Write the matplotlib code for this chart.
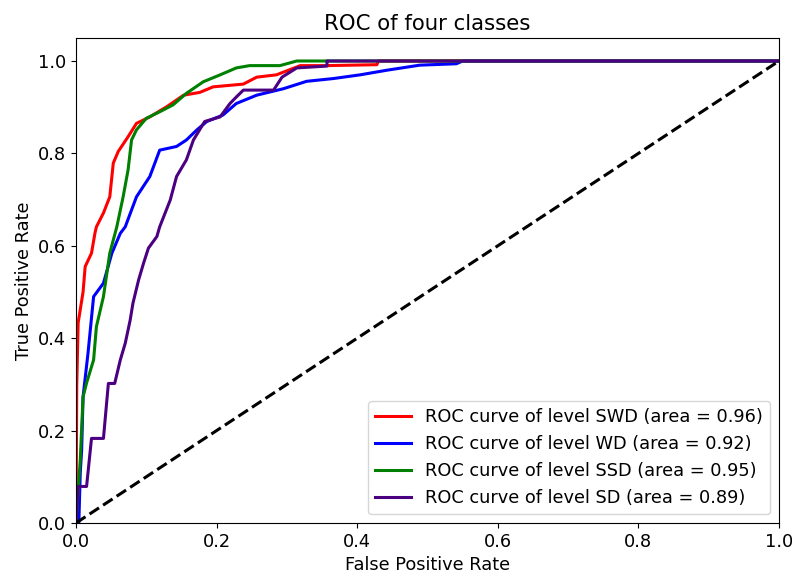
import numpy as np
import matplotlib.pyplot as plt

# ROC points (fpr, tpr)
swd_fpr = [0, 0.001, 0.003, 0.010, 0.013, 0.022, 0.027, 0.029, 0.039, 0.048, 0.053, 0.060,
           0.074, 0.086, 0.105, 0.129, 0.153, 0.176, 0.195, 0.238, 0.257, 0.285, 0.319,
           0.357, 0.428, 0.43, 1.0]
swd_tpr = [0, 0.295, 0.433, 0.50, 0.555, 0.584, 0.628, 0.641, 0.671, 0.706, 0.779, 0.804,
           0.836, 0.865, 0.879, 0.901, 0.926, 0.932, 0.944, 0.95, 0.965, 0.97, 0.99,
           0.99, 0.992, 1.0, 1.0]

wd_fpr = [0, 0.004, 0.006, 0.008, 0.010, 0.017, 0.025, 0.039, 0.051, 0.063, 0.070, 0.086,
          0.105, 0.119, 0.143, 0.157, 0.172, 0.186, 0.209, 0.228, 0.257, 0.295, 0.328,
          0.366, 0.404, 0.442, 0.489, 0.541, 0.55, 1.0]
wd_tpr = [0, 0.0, 0.108, 0.158, 0.273, 0.367, 0.49, 0.519, 0.584, 0.627, 0.641, 0.706,
          0.75, 0.807, 0.815, 0.829, 0.851, 0.869, 0.883, 0.908, 0.926, 0.94, 0.956,
          0.962, 0.97, 0.98, 0.991, 0.994, 1.0, 1.0]

ssd_fpr = [0, 0.006, 0.010, 0.015, 0.025, 0.029, 0.039, 0.048, 0.058, 0.067, 0.074, 0.079,
           0.086, 0.100, 0.119, 0.138, 0.157, 0.181, 0.205, 0.228, 0.247, 0.29, 0.314, 1.0]
ssd_tpr = [0, 0.136, 0.273, 0.303, 0.353, 0.425, 0.49, 0.584, 0.641, 0.706, 0.764, 0.829,
           0.851, 0.876, 0.89, 0.905, 0.93, 0.955, 0.97, 0.985, 0.99, 0.99, 1.0, 1.0]

sd_fpr = [0, 0.003, 0.015, 0.022, 0.039, 0.046, 0.055, 0.063, 0.070, 0.077, 0.081, 0.089,
          0.096, 0.103, 0.115, 0.119, 0.134, 0.143, 0.157, 0.167, 0.183, 0.205, 0.219,
          0.228, 0.238, 0.281, 0.293, 0.314, 0.357, 0.357, 1.0]
sd_tpr = [0, 0.079, 0.079, 0.183, 0.183, 0.302, 0.302, 0.353, 0.389, 0.439, 0.476, 0.526,
          0.562, 0.595, 0.62, 0.641, 0.699, 0.75, 0.786, 0.829, 0.869, 0.879, 0.908,
          0.922, 0.937, 0.937, 0.965, 0.985, 0.989, 1.0, 1.0]

levels = ['SWD', 'WD', 'SSD', 'SD']
areas = [0.96, 0.92, 0.95, 0.89]
colors = ['red', 'blue', 'green', 'indigo']
curves = [(swd_fpr, swd_tpr), (wd_fpr, wd_tpr), (ssd_fpr, ssd_tpr), (sd_fpr, sd_tpr)]

plt.rcParams['font.size'] = 12.8
fig = plt.figure(figsize=(7.92, 5.83), dpi=100)
ax = fig.add_axes([0.096, 0.103, 0.8876, 0.832])

for (fpr, tpr), lvl, a, c in zip(curves, levels, areas, colors):
    ax.plot(fpr, tpr, color=c, lw=2.2,
            label='ROC curve of level {0} (area = {1:0.2f})'.format(lvl, a))

ax.plot([0, 1], [0, 1], 'k--', lw=2.2)
ax.set_xlim(0.0, 1.0)
ax.set_ylim(0.0, 1.05)
ax.set_xlabel('False Positive Rate')
ax.set_ylabel('True Positive Rate')
ax.set_title('ROC of four classes', fontsize=15.3)
ax.legend(loc='lower right')

fig.savefig('out.png', dpi=100)
